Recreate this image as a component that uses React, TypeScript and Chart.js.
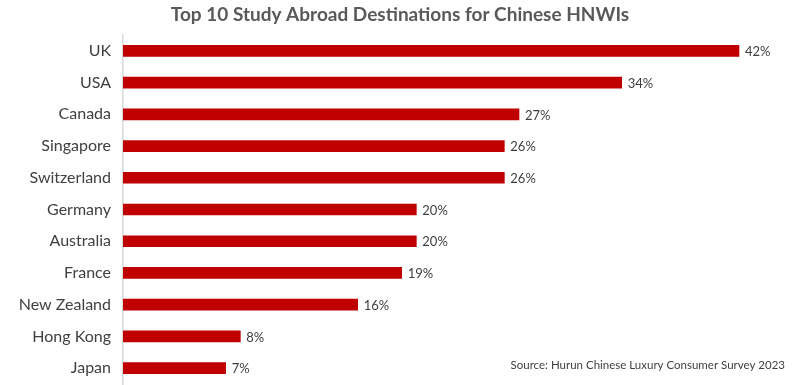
import React, { useEffect, useRef } from "react";
import { Chart, registerables } from "chart.js";

Chart.register(...registerables);

const TITLE = "Top 10 Study Abroad Destinations for Chinese HNWIs";
const SOURCE = "Source: Hurun Chinese Luxury Consumer Survey 2023";
const categories = [
  "UK",
  "USA",
  "Canada",
  "Singapore",
  "Switzerland",
  "Germany",
  "Australia",
  "France",
  "New Zealand",
  "Hong Kong",
  "Japan",
];
const values = [42, 34, 27, 26, 26, 20, 20, 19, 16, 8, 7];

const FONT = "Lato, 'Open Sans', sans-serif";
const TEXT = "#404040";

const overlay = {
  id: "overlay",
  afterDatasetsDraw(chart: any) {
    const ctx = chart.ctx;
    ctx.save();
    ctx.fillStyle = "#595959";
    ctx.font = `bold 19px ${FONT}`;
    ctx.textAlign = "center";
    ctx.textBaseline = "middle";
    ctx.fillText(TITLE, 400, 15);
    const meta = chart.getDatasetMeta(0);
    ctx.font = `13px ${FONT}`;
    ctx.fillStyle = TEXT;
    ctx.textAlign = "left";
    meta.data.forEach((bar: any, i: number) => {
      ctx.fillText(values[i] + "%", bar.x + 6, bar.y + 1);
    });
    ctx.font = `11.5px ${FONT}`;
    ctx.textAlign = "right";
    ctx.fillStyle = TEXT;
    ctx.fillText(SOURCE, 785, 365);
    ctx.restore();
  },
};

export default function App() {
  const ref = useRef<HTMLCanvasElement | null>(null);
  useEffect(() => {
    if (!ref.current) return;
    const chart = new Chart(ref.current, {
      type: "bar",
      data: {
        labels: categories,
        datasets: [
          {
            data: values,
            backgroundColor: "#C00000",
            barThickness: 11,
          },
        ],
      },
      options: {
        indexAxis: "y",
        animation: false,
        responsive: false,
        layout: { padding: { top: 35, bottom: 1, left: 0, right: 17 } },
        plugins: {
          legend: { display: false },
          title: { display: false },
          tooltip: { enabled: false },
        },
        scales: {
          x: { display: false, min: 0, max: 45 },
          y: {
            afterFit: (s: any) => {
              s.width = 123;
              s.paddingTop = 0;
              s.paddingBottom = 0;
            },
            grid: { display: false, drawTicks: false },
            border: { display: true, color: "#D9D9D9", width: 1.5 },
            ticks: {
              padding: 12,
              color: TEXT,
              font: { family: FONT, size: 16 },
            },
          },
        },
      },
      plugins: [overlay],
    });
    return () => chart.destroy();
  }, []);
  return (
    <div style={{ position: "fixed", left: 0, top: 0, width: 800, height: 385, background: "#fff" }}>
      <canvas ref={ref} width={800} height={385} style={{ width: 800, height: 385 }} />
    </div>
  );
}
